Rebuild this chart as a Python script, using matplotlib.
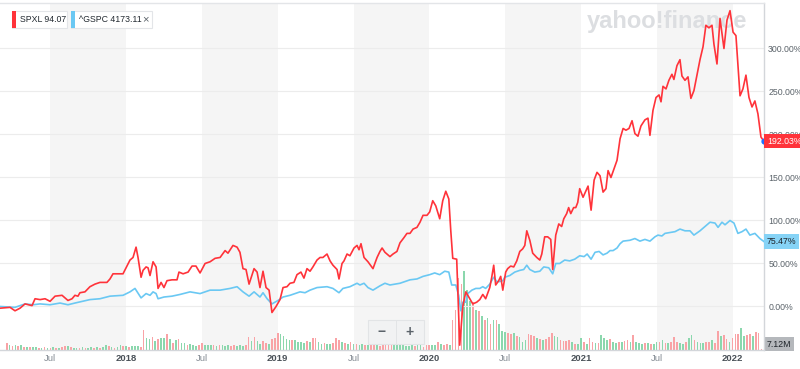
import matplotlib
matplotlib.use("Agg")  # no display in the sandbox
import matplotlib.pyplot as plt
import matplotlib.transforms as mtransforms
from matplotlib.patches import Rectangle
import numpy as np

plt.rcParams["font.family"] = ["Liberation Sans", "DejaVu Sans"]

# ---- Data: decimal years, % change since the start of the range ----
spxl_t = [
    2017.169, 2017.235, 2017.268, 2017.301, 2017.334, 2017.380, 2017.400, 2017.433, 2017.466, 2017.499,
    2017.532, 2017.578, 2017.617, 2017.644, 2017.663, 2017.683, 2017.696, 2017.729, 2017.762, 2017.795,
    2017.828, 2017.874, 2017.894, 2017.914, 2017.947, 2017.980, 2018.000, 2018.026, 2018.046, 2018.066,
    2018.079, 2018.099, 2018.112, 2018.132, 2018.145, 2018.158, 2018.178, 2018.198, 2018.211, 2018.231,
    2018.250, 2018.270, 2018.303, 2018.336, 2018.349, 2018.376, 2018.409, 2018.435, 2018.461, 2018.488,
    2018.521, 2018.554, 2018.587, 2018.620, 2018.653, 2018.672, 2018.705, 2018.732, 2018.751, 2018.771,
    2018.791, 2018.811, 2018.831, 2018.844, 2018.864, 2018.883, 2018.903, 2018.923, 2018.943, 2018.962,
    2018.989, 2019.015, 2019.035, 2019.061, 2019.081, 2019.107, 2019.127, 2019.153, 2019.173, 2019.193,
    2019.213, 2019.232, 2019.259, 2019.279, 2019.298, 2019.325, 2019.345, 2019.364, 2019.391, 2019.404,
    2019.424, 2019.437, 2019.457, 2019.476, 2019.503, 2019.523, 2019.536, 2019.549, 2019.569, 2019.595,
    2019.628, 2019.655, 2019.674, 2019.688, 2019.707, 2019.740, 2019.760, 2019.786, 2019.806, 2019.832,
    2019.852, 2019.872, 2019.892, 2019.918, 2019.938, 2019.958, 2019.984, 2020.002, 2020.022, 2020.042,
    2020.068, 2020.088, 2020.108, 2020.128, 2020.141, 2020.154, 2020.180, 2020.200, 2020.220, 2020.240,
    2020.253, 2020.266, 2020.286, 2020.312, 2020.332, 2020.352, 2020.371, 2020.398, 2020.411, 2020.424,
    2020.437, 2020.457, 2020.470, 2020.484, 2020.503, 2020.516, 2020.536, 2020.556, 2020.576, 2020.596,
    2020.615, 2020.629, 2020.642, 2020.662, 2020.681, 2020.708, 2020.728, 2020.741, 2020.760, 2020.780,
    2020.800, 2020.813, 2020.833, 2020.853, 2020.872, 2020.886, 2020.905, 2020.918, 2020.932, 2020.951,
    2020.965, 2020.978, 2020.991, 2021.013, 2021.046, 2021.066, 2021.086, 2021.105, 2021.125, 2021.145,
    2021.164, 2021.178, 2021.197, 2021.217, 2021.237, 2021.257, 2021.277, 2021.296, 2021.316, 2021.336,
    2021.355, 2021.375, 2021.395, 2021.421, 2021.441, 2021.454, 2021.474, 2021.494, 2021.514, 2021.527,
    2021.540, 2021.560, 2021.579, 2021.599, 2021.612, 2021.632, 2021.652, 2021.665, 2021.685, 2021.705,
    2021.724, 2021.744, 2021.764, 2021.784, 2021.804, 2021.823, 2021.843, 2021.863, 2021.876, 2021.896,
    2021.916, 2021.942, 2021.962, 2021.982, 2022.002, 2022.021, 2022.048, 2022.067, 2022.087, 2022.107,
    2022.127, 2022.146, 2022.166, 2022.186, 2022.206,
]
spxl_pct = [
    -2, -1, -5, -2, 3, 1, 9, 8, 9, 6,
    12, 13, 7, 9, 13, 12, 16, 17, 23, 26,
    28, 28, 32, 38, 38, 38, 45, 54, 57, 69,
    57, 34, 42, 46, 45, 36, 52, 46, 21, 28,
    22, 30, 31, 31, 40, 38, 40, 47, 47, 39,
    50, 52, 56, 57, 65, 62, 71, 69, 63, 44,
    43, 26, 37, 44, 40, 22, 41, 22, 19, -7,
    0, 8, 22, 23, 27, 28, 37, 40, 33, 44,
    41, 46, 54, 57, 57, 61, 53, 48, 43, 32,
    50, 53, 61, 59, 68, 71, 66, 73, 57, 52,
    44, 57, 64, 68, 63, 58, 61, 64, 74, 80,
    85, 85, 90, 92, 98, 106, 106, 110, 123, 117,
    102, 123, 134, 125, 88, 56, 55, -45, 0, 17,
    13, 9, 3, 5, 8, 14, 9, 22, 34, 48,
    25, 30, 35, 19, 40, 44, 47, 46, 53, 64,
    67, 71, 88, 77, 62, 57, 54, 61, 81, 81,
    78, 43, 83, 96, 93, 102, 108, 115, 108, 115,
    115, 121, 137, 127, 140, 112, 147, 156, 152, 133,
    137, 158, 150, 160, 170, 195, 207, 205, 207, 216,
    201, 198, 210, 217, 219, 199, 228, 243, 246, 238,
    256, 253, 263, 270, 264, 280, 287, 268, 263, 267,
    242, 251, 269, 287, 302, 327, 324, 327, 305, 282,
    335, 300, 333, 344, 319, 315, 245, 253, 269, 243,
    232, 239, 224, 197, 192.03,
]

gspc_t = [
    2017.169, 2017.268, 2017.334, 2017.387, 2017.433, 2017.499, 2017.565, 2017.617, 2017.663, 2017.762,
    2017.828, 2017.894, 2017.980, 2018.026, 2018.059, 2018.099, 2018.132, 2018.158, 2018.178, 2018.198,
    2018.211, 2018.250, 2018.303, 2018.356, 2018.422, 2018.488, 2018.554, 2018.620, 2018.686, 2018.732,
    2018.771, 2018.811, 2018.844, 2018.883, 2018.903, 2018.930, 2018.962, 2019.002, 2019.035, 2019.081,
    2019.147, 2019.180, 2019.213, 2019.259, 2019.325, 2019.364, 2019.404, 2019.430, 2019.476, 2019.523,
    2019.542, 2019.569, 2019.595, 2019.628, 2019.674, 2019.707, 2019.740, 2019.773, 2019.806, 2019.839,
    2019.872, 2019.918, 2019.958, 2020.002, 2020.035, 2020.068, 2020.101, 2020.128, 2020.147, 2020.174,
    2020.193, 2020.207, 2020.220, 2020.240, 2020.253, 2020.280, 2020.306, 2020.332, 2020.352, 2020.371,
    2020.398, 2020.424, 2020.444, 2020.464, 2020.484, 2020.497, 2020.530, 2020.563, 2020.596, 2020.622,
    2020.642, 2020.662, 2020.695, 2020.728, 2020.754, 2020.787, 2020.813, 2020.833, 2020.859, 2020.892,
    2020.925, 2020.958, 2020.991, 2021.020, 2021.040, 2021.066, 2021.092, 2021.119, 2021.145, 2021.171,
    2021.191, 2021.211, 2021.237, 2021.257, 2021.277, 2021.322, 2021.355, 2021.388, 2021.421, 2021.454,
    2021.487, 2021.507, 2021.533, 2021.553, 2021.586, 2021.619, 2021.652, 2021.685, 2021.718, 2021.744,
    2021.784, 2021.817, 2021.850, 2021.883, 2021.903, 2021.929, 2021.949, 2021.982, 2022.008, 2022.034,
    2022.061, 2022.087, 2022.113, 2022.146, 2022.179, 2022.206,
]
gspc_pct = [
    0, -1, 3, 2, 3, 2, 4, 2, 4, 8,
    9, 12, 13, 17, 21, 10, 15, 13, 17, 15,
    9, 11, 12, 14, 17, 15, 19, 19, 21, 23,
    17, 12, 17, 11, 16, 9, 3, 7, 11, 13,
    17, 16, 19, 22, 23, 21, 16, 21, 23, 27,
    25, 27, 22, 19, 24, 27, 25, 26, 27, 29,
    31, 32, 35, 37, 39, 37, 41, 40, 25, 25,
    13, -5, 5, 5, 15, 19, 21, 21, 23, 21,
    26, 34, 29, 29, 30, 34, 36, 40, 42, 43,
    48, 43, 40, 41, 46, 45, 38, 50, 50, 54,
    53, 55, 59, 58, 61, 55, 63, 64, 60, 62,
    65, 65, 68, 73, 76, 77, 79, 76, 78, 76,
    81, 83, 82, 85, 86, 87, 90, 88, 88, 83,
    88, 93, 98, 97, 92, 98, 95, 100, 97, 85,
    87, 90, 83, 85, 79, 75.47,
]

# weekly volume (millions of shares), first and last bar dates
vol_first, vol_last = 2017.213, 2022.190
volume_m = [
    35, 25, 20, 25, 20, 25, 15, 15, 15, 15,
    15, 10, 10, 15, 10, 10, 15, 10, 10, 15, 20, 20, 15, 10, 10, 10, 15, 10, 10, 15,
    10, 15, 10, 15, 25, 20, 15, 10, 15,
    25, 20, 20, 15, 20, 20, 20, 15,
    100, 60, 55, 65, 45, 55, 60, 60, 80, 55, 35, 50, 55, 35, 35, 25, 30, 25, 20, 25,
    35, 25, 25, 25, 25, 20, 25, 25, 20, 25, 20, 25, 20, 25, 20, 25, 65, 45, 65, 45,
    30, 45, 35, 30, 55, 60, 85, 80, 70, 55, 50, 50, 50, 40, 40, 35, 45, 40, 60, 60,
    40, 30, 35, 30, 30, 35, 60, 50, 40, 35, 30, 40, 30, 30, 25, 30, 25, 25, 45, 55,
    35, 20, 25, 30, 45, 50, 40, 30, 25,
    25, 20, 20, 25, 20, 30, 25, 15, 25, 25, 25, 25, 40, 30, 25, 30, 25,
    150, 200, 360, 330, 395, 300, 245, 240, 200, 195, 170, 150, 160, 130, 150, 150, 130,
    95, 90, 85, 80, 85, 70, 65, 40, 50, 80, 75, 70, 60, 55, 50, 55, 65, 85, 70, 65,
    50, 45, 45, 50, 40, 30, 30, 60, 40, 30, 60, 40, 35, 35, 75, 60, 50, 55, 40, 35,
    40, 40, 45, 50, 40, 75, 40, 35, 30, 35, 35, 30, 30, 40, 40, 50, 35, 35, 40, 65,
    40, 35, 30, 40, 60, 75, 50, 40, 35, 35, 40, 40, 50, 35, 95, 70, 75, 55, 40, 60,
    80, 80, 110, 70, 75, 80, 70, 90, 85, 7.12,
]
volume_up = [  # 1 = up week (green), 0 = down week (red)
    0, 1, 0, 1, 0, 1, 0, 1, 0, 1,
    1, 0, 1, 0, 1, 0, 1, 0, 1, 0, 0, 1, 0, 1, 1, 0, 1, 0, 1, 1,
    0, 1, 0, 1, 1, 0, 1, 0, 1,
    1, 0, 1, 0, 1, 1, 1, 0,
    0, 1, 1, 0, 1, 0, 1, 1, 0, 1, 0, 1, 0, 1, 1, 0, 1, 1, 1, 0,
    0, 1, 1, 1, 0, 1, 0, 1, 1, 1, 0, 0, 1, 1, 1, 0, 0, 1, 0, 1,
    1, 0, 0, 1, 0, 0, 0, 1, 1, 1, 1, 0, 1, 1, 1, 1, 0, 1, 0, 0,
    1, 1, 0, 1, 1, 0, 0, 0, 1, 0, 1, 0, 1, 0, 1, 1, 0, 1, 0, 0,
    1, 0, 0, 0, 0, 0, 1, 1, 1,
    1, 1, 1, 1, 0, 1, 1, 0, 0, 0, 1, 1, 0, 1, 0, 0, 1,
    0, 0, 0, 0, 1, 1, 1, 0, 1, 0, 1, 0, 1, 0, 1, 0, 1,
    1, 1, 0, 0, 1, 0, 1, 1, 1, 0, 0, 0, 1, 0, 1, 0, 0, 0, 1, 1,
    0, 0, 0, 0, 1, 0, 1, 1, 0, 1, 0, 0, 1, 0, 1, 1, 1, 0, 1, 1,
    0, 1, 0, 0, 1, 0, 1, 1, 1, 0, 1, 0, 1, 1, 0, 1, 0, 1, 0, 0,
    0, 1, 1, 0, 1, 1, 0, 1, 1, 1, 0, 0, 1, 0, 0, 1, 0, 0, 1, 0,
    0, 0, 1, 1, 0, 0, 1, 0, 0, 0,
]

x_ticks = [2017.5, 2018, 2018.5, 2019, 2019.5, 2020, 2020.5, 2021, 2021.5, 2022]
x_labels = ["Jul", "2018", "Jul", "2019", "Jul", "2020", "Jul", "2021", "Jul", "2022"]
y_ticks = [0, 50, 100, 150, 200, 250, 300]
shade_spans = [(2017.5, 2018.0), (2018.5, 2019.0), (2019.5, 2020.0), (2020.5, 2021.0), (2021.5, 2022.0)]

legend_items = [("SPXL", "94.07"), ("^GSPC", "4173.11")]
last_vol_label = "7.12M"

# ---- Style ----
RED = "#ff333a"
BLUE = "#6ac8f3"
VOL_RED = "#f9a3a6"
VOL_GREEN = "#8bd7ad"
SHADE = "#f5f5f5"
GRID = "#ececec"
TEXT = "#5b636a"
W, H = 800, 369


def fig_rect(fig, x0, y0, x1, y1, **kw):
    """Rectangle in pixel coords measured from the top-left of the figure."""
    r = Rectangle((x0 / W, 1 - y1 / H), (x1 - x0) / W, (y1 - y0) / H,
                  transform=fig.transFigure, **kw)
    fig.patches.append(r)
    return r


fig = plt.figure(figsize=(W / 100, H / 100), dpi=100, facecolor="white")
ax = fig.add_axes([0, 1 - 350 / H, 764 / W, 347 / H])
ax_vol = ax.twinx()
ax.set_zorder(2)
ax_vol.set_zorder(1)
ax.patch.set_visible(False)

# volume pane + half-year shading
for a, b in shade_spans:
    ax_vol.axvspan(a, b, color=SHADE, lw=0, zorder=0)
vol_t = np.linspace(vol_first, vol_last, len(volume_m))
ax_vol.bar(vol_t, volume_m, width=0.011,
           color=[VOL_GREEN if u else VOL_RED for u in volume_up], lw=0, zorder=2)
ax_vol.set_ylim(0, 1735)
ax_vol.set_yticks([])
for s in ax_vol.spines.values():
    s.set_visible(False)
ax_vol.text(587 / W, 1 - 28 / H, "yahoo!finance", transform=fig.transFigure,
            fontsize=17, fontweight="bold", color="#dcdee1", va="baseline", zorder=1)

# price lines
ax.plot(gspc_t, gspc_pct, color=BLUE, lw=1.2, zorder=3)
ax.plot(spxl_t, spxl_pct, color=RED, lw=1.2, zorder=4)
ax.plot(spxl_t[-1], spxl_pct[-1], "o", color="#1f6fff", ms=3.5, zorder=6, clip_on=False)

ax.set_xlim(2017.169, 2022.206)
ax.set_ylim(-50.6, 352.9)

ax.yaxis.tick_right()
ax.set_yticks(y_ticks, [f"{v:.2f}%" for v in y_ticks])
ax.tick_params(axis="y", length=0, pad=3, labelsize=6.3, labelcolor=TEXT)
ax.grid(axis="y", color=GRID, lw=0.8)
ax.set_axisbelow(True)

ax.set_xticks(x_ticks, x_labels)
ax.tick_params(axis="x", length=0, pad=3, labelsize=6.8)
for lbl in ax.get_xticklabels():
    if lbl.get_text() == "Jul":
        lbl.set_color("#858c94")
    else:
        lbl.set_color("#4a5158")
        lbl.set_fontweight("bold")

ax.spines["left"].set_visible(False)
ax.spines["top"].set_color("#e3e5e8")
ax.spines["right"].set_color("#d3d6da")
ax.spines["bottom"].set_color("#d3d6da")
for s in ("top", "right", "bottom"):
    ax.spines[s].set_linewidth(1.0)

# value tags on the right edge
trans = mtransforms.blended_transform_factory(ax.transAxes, ax.transData)
ax.text(1.0 + 3 / 764, spxl_pct[-1], f"{spxl_pct[-1]:.2f}%", transform=trans,
        fontsize=6.3, color="white", ha="left", va="center", zorder=7, clip_on=False,
        bbox=dict(boxstyle="square,pad=0.3", fc=RED, ec="none"))
ax.text(1.0 + 3 / 764, gspc_pct[-1], f"{gspc_pct[-1]:.2f}%", transform=trans,
        fontsize=6.3, color="#1d2228", ha="left", va="center", zorder=7, clip_on=False,
        bbox=dict(boxstyle="square,pad=0.3", fc="#86d3f6", ec="none"))
ax_vol.text(1.0 + 3 / 764, volume_m[-1], last_vol_label,
            transform=mtransforms.blended_transform_factory(ax_vol.transAxes, ax_vol.transData),
            fontsize=6.3, color="#1d2228", ha="left", va="bottom", zorder=7, clip_on=False,
            bbox=dict(boxstyle="square,pad=0.3", fc="#b5b8bc", ec="none"))

# legend chips
chips = [(12, 67, RED), (71, 152, BLUE)]
for (name, price), (x0, x1, col) in zip(legend_items, chips):
    fig_rect(fig, x0, 11, x1, 28, fc="white", ec="#e3e5e8", lw=0.8)
    fig_rect(fig, x0, 11, x0 + 4, 28, fc=col, ec="none")
    fig.text((x0 + 8) / W, 1 - 19.5 / H, f"{name} {price}", fontsize=6.3,
             color="#232a31", va="center")
fig.text(145 / W, 1 - 19.5 / H, "\u00d7", fontsize=8, color=TEXT, va="center", ha="center")

# zoom buttons
fig_rect(fig, 368, 320, 424, 344, fc="#f1f2f3", ec="#e2e4e6", lw=0.8, zorder=5)
fig_rect(fig, 395.5, 320, 396.5, 344, fc="#e2e4e6", ec="none", zorder=5)
fig.text(382 / W, 1 - 332 / H, "\u2212", fontsize=10, fontweight="bold", color=TEXT,
         ha="center", va="center", zorder=6)
fig.text(410 / W, 1 - 332 / H, "+", fontsize=10, fontweight="bold", color=TEXT,
         ha="center", va="center", zorder=6)

fig.savefig("out.png", dpi=100)
